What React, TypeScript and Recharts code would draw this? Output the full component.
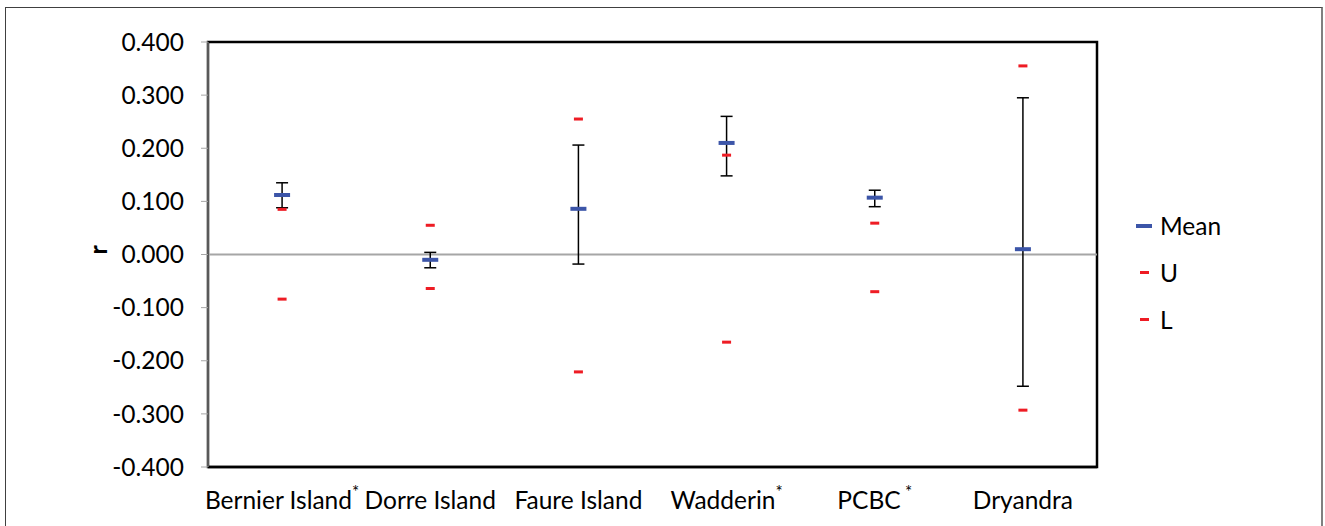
import {
  ComposedChart, Scatter, ErrorBar, XAxis, YAxis, CartesianGrid, ReferenceLine, ReferenceArea, Legend,
} from "recharts";

const SITES = ["Bernier Island", "Dorre Island", "Faure Island", "Wadderin", "PCBC", "Dryandra"];
const STARS = ["*", "", "", "*", " *", ""];
const MEAN = [0.112, -0.010, 0.086, 0.210, 0.107, 0.010];
const CI_HI = [0.135, 0.004, 0.206, 0.260, 0.121, 0.295];
const CI_LO = [0.088, -0.025, -0.018, 0.148, 0.090, -0.248];
const U = [0.085, 0.055, 0.255, 0.187, 0.059, 0.355];
const L = [-0.084, -0.064, -0.221, -0.165, -0.070, -0.293];
const Y_TICKS = [-0.4, -0.3, -0.2, -0.1, 0, 0.1, 0.2, 0.3, 0.4];
const KEY_ORDER = ["Mean", "U", "L"];
const SITE_POS = SITES.map((_, i) => i);
const BOUNDS = SITES.slice(1).map((_, i) => i + 0.5);
const X_DOMAIN = [-0.5, SITES.length - 0.5];
const Y_DOMAIN = [-0.4, 0.4];

const FONT = "Lato, Carlito, Calibri, sans-serif";
const BLUE = "#3c55a8";
const RED = "#ee1c24";

const rows = SITES.map((site, i) => ({
  pos: i, site, mean: MEAN[i], u: U[i], l: L[i],
  err: [MEAN[i] - CI_LO[i], CI_HI[i] - MEAN[i]],
}));

function Dash({ cx, cy, w, h, fill }: any) {
  if (cx == null || cy == null) return null;
  return <rect x={cx - w / 2} y={cy - h / 2} width={w} height={h} fill={fill} />;
}

function SiteTick({ x, y, payload }: any) {
  const i = payload.value as number;
  return (
    <text x={x} y={y} dy="0.71em" textAnchor="middle" fontSize={24.5} fontFamily={FONT} fill="#000">
      {SITES[i]}
      {STARS[i] && <tspan dy={-11} fontSize={17}>{STARS[i]}</tspan>}
    </text>
  );
}

function KeyList({ payload }: any) {
  const items = [...(payload ?? [])].sort(
    (a: any, b: any) => KEY_ORDER.indexOf(a.value) - KEY_ORDER.indexOf(b.value));
  return (
    <div style={{ fontFamily: FONT, fontSize: 24.5, color: "#000" }}>
      {items.map((p: any) => {
        const big = p.value === "Mean";
        return (
          <div key={p.value} style={{ display: "flex", alignItems: "center", height: 47 }}>
            <span style={{ width: 16, display: "inline-flex", justifyContent: "center", marginRight: 8 }}>
              <span style={{ width: big ? 16 : 9, height: big ? 4 : 3, background: p.color }} />
            </span>
            {p.value}
          </div>
        );
      })}
    </div>
  );
}

export default function App() {
  return (
    <div style={{
      position: "absolute", left: 5, top: 7, width: 1318, height: 519, boxSizing: "border-box",
      borderTop: "1px solid #404040", borderLeft: "1px solid #404040", borderRight: "2px solid #808080",
      background: "#fff",
    }}>
      <ComposedChart width={1315} height={518} data={rows}
        margin={{ top: 34, right: 224, bottom: 0, left: 62 }}>
        <CartesianGrid xAxisId="top" horizontal={false} stroke="#a6a6a6" strokeWidth={1.5} />
        <ReferenceLine y={0} stroke="#a6a6a6" strokeWidth={2} />
        <ReferenceArea x1={X_DOMAIN[0]} x2={X_DOMAIN[1]} y1={Y_DOMAIN[0]} y2={Y_DOMAIN[1]}
          fill="none" fillOpacity={0} stroke="#000" strokeWidth={2.5} ifOverflow="visible" />
        <XAxis dataKey="pos" type="number" domain={X_DOMAIN} ticks={SITE_POS} interval={0}
          height={59} tickLine={false} tickSize={0} tickMargin={25} stroke="#000"
          axisLine={{ stroke: "#000", strokeWidth: 2.5 }} tick={<SiteTick />} />
        <XAxis xAxisId="top" orientation="top" type="number" domain={X_DOMAIN} ticks={BOUNDS}
          height={0} tick={false} tickLine={false} axisLine={false} />
        <YAxis type="number" domain={Y_DOMAIN} ticks={Y_TICKS} interval={0} width={140}
          tickFormatter={(v: number) => v.toFixed(3)} tickSize={7} tickMargin={17} stroke="#595959"
          tickLine={{ stroke: "#a6a6a6" }} axisLine={{ stroke: "#595959", strokeWidth: 2 }}
          tick={{ fontSize: 24.5, fontFamily: FONT, fill: "#000" }}
          label={{ value: "r", angle: -90, position: "insideLeft", offset: 30,
            style: { fontSize: 25, fontFamily: FONT, fontWeight: 700, fill: "#000" } }} />
        <Scatter name="Mean" dataKey="mean" fill={BLUE} isAnimationActive={false}
          shape={(p: any) => <Dash {...p} w={16} h={4} fill={BLUE} />}>
          <ErrorBar dataKey="err" direction="y" width={6} stroke="#000" strokeWidth={1.5} />
        </Scatter>
        <Scatter name="U" dataKey="u" fill={RED} isAnimationActive={false}
          shape={(p: any) => <Dash {...p} w={9} h={3} fill={RED} />} />
        <Scatter name="L" dataKey="l" fill={RED} isAnimationActive={false}
          shape={(p: any) => <Dash {...p} w={9} h={3} fill={RED} />} />
        <Legend layout="vertical" align="center" verticalAlign="middle" content={<KeyList />}
          wrapperStyle={{ left: 1130, top: 194, width: 140 }} />
      </ComposedChart>
    </div>
  );
}
